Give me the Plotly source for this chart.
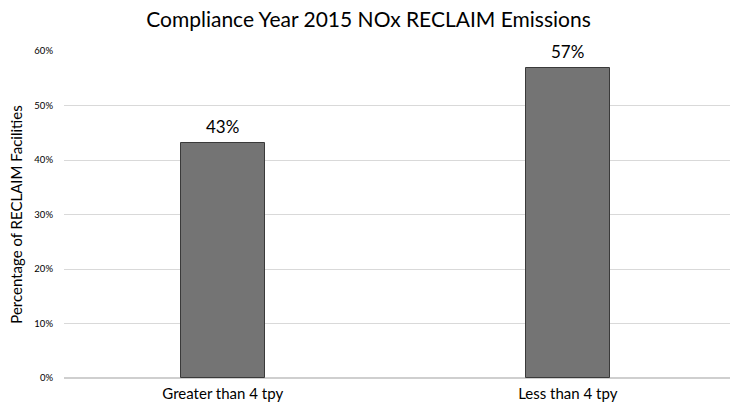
import plotly.graph_objects as go

categories = ["Greater than 4 tpy", "Less than 4 tpy"]
values = [0.432, 0.568]
labels = ["43%", "57%"]
tick_vals = [0, 0.1, 0.2, 0.3, 0.4, 0.5, 0.6]
tick_text = ["0%", "10%", "20%", "30%", "40%", "50%", "60%"]

font_family = "Lato, 'Open Sans', sans-serif"

fig = go.Figure()
fig.add_trace(go.Bar(
    x=[0, 1], y=values,
    width=0.243,
    marker=dict(color="#747474", line=dict(color="#3a3a3a", width=1)),
))
for xi, yi, lab in zip([0, 1], values, labels):
    fig.add_annotation(x=xi, y=yi, text=lab, showarrow=False,
                       yanchor="bottom", yshift=4,
                       font=dict(size=17, color="#000000", family=font_family))
fig.update_layout(
    width=737, height=412,
    margin=dict(l=64, r=7, t=51, b=34, autoexpand=False),
    paper_bgcolor="white", plot_bgcolor="white",
    title=dict(text="Compliance Year 2015 NOx RECLAIM Emissions",
               x=0.5, xanchor="center", y=0.952, yanchor="middle",
               font=dict(size=21, color="#000000", family=font_family)),
    showlegend=False,
    bargap=0,
)
fig.update_xaxes(
    tickmode="array", tickvals=[0, 1], ticktext=categories,
    range=[-0.46, 1.47], automargin=False,
    showgrid=False, zeroline=False, showline=False,
    ticks="", ticklabelstandoff=5,
    tickfont=dict(size=15, color="#000000", family=font_family),
)
fig.update_yaxes(
    range=[0, 0.6], tickmode="array", tickvals=tick_vals, ticktext=tick_text,
    automargin=False,
    showgrid=True, gridcolor="#d9d9d9", gridwidth=1,
    zeroline=True, zerolinecolor="#cfcfcf", zerolinewidth=2,
    showline=False, ticks="", ticklabelstandoff=10,
    tickfont=dict(size=9.5, color="#000000", family=font_family),
    title=dict(text="Percentage of RECLAIM Facilities", standoff=8,
               font=dict(size=15, color="#000000", family=font_family)),
)
fig.write_html("out.html", config={"displayModeBar": False},
               post_script="document.body.style.margin='0';")
